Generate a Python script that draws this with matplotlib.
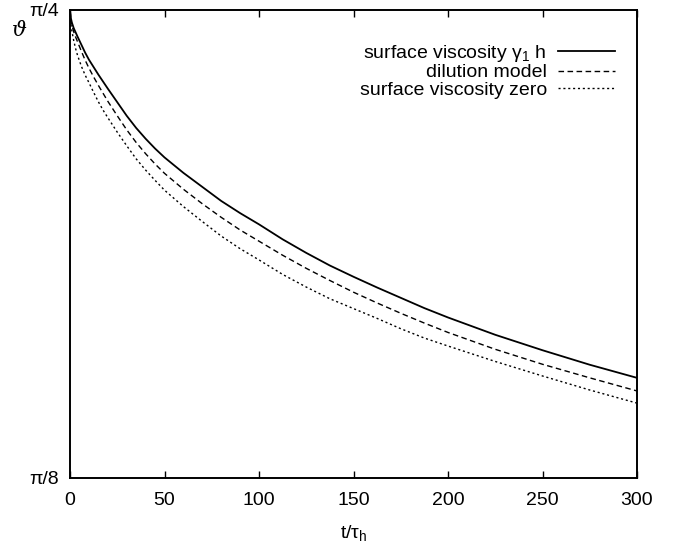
import numpy as np
import matplotlib.pyplot as plt

plt.rcParams['font.family'] = ['Liberation Sans', 'DejaVu Sans']
plt.rcParams['mathtext.fontset'] = 'custom'
plt.rcParams['mathtext.rm'] = 'Liberation Sans'
plt.rcParams['mathtext.it'] = 'Liberation Sans'

# time in units of tau_h
t = [0, 0.5, 1, 2, 3, 4, 6, 8, 10, 12.5, 15, 17.5, 20, 25, 30, 35, 40, 45, 50, 60, 70, 80, 90,
     100, 112.5, 125, 137.5, 150, 162.5, 175, 187.5, 200, 225, 250, 275, 300]

# drop of the angle below pi/4, in units of pi/8
drop_gamma = [0, 0.018, 0.027, 0.039, 0.048, 0.057, 0.074, 0.091, 0.106, 0.122, 0.138, 0.153,
              0.168, 0.197, 0.226, 0.252, 0.275, 0.296, 0.315, 0.348, 0.378, 0.408, 0.434,
              0.458, 0.490, 0.519, 0.546, 0.570, 0.593, 0.615, 0.637, 0.657, 0.694, 0.727,
              0.758, 0.786]
drop_dilution = [0, 0.022, 0.032, 0.047, 0.058, 0.068, 0.088, 0.107, 0.124, 0.143, 0.161, 0.178,
                 0.195, 0.226, 0.256, 0.283, 0.307, 0.329, 0.349, 0.383, 0.414, 0.443, 0.470,
                 0.494, 0.524, 0.552, 0.578, 0.603, 0.626, 0.648, 0.669, 0.689, 0.725, 0.757,
                 0.786, 0.814]
drop_zero = [0, 0.030, 0.045, 0.066, 0.083, 0.097, 0.120, 0.139, 0.155, 0.176, 0.196, 0.214,
             0.230, 0.261, 0.290, 0.318, 0.342, 0.364, 0.385, 0.420, 0.452, 0.483, 0.510,
             0.534, 0.565, 0.592, 0.617, 0.638, 0.659, 0.681, 0.701, 0.718, 0.751, 0.782,
             0.812, 0.840]

labels = [r'surface viscosity $\gamma_1$ h', 'dilution model', 'surface viscosity zero']

t = np.array(t)
step = np.pi / 8
theta_gamma = np.pi/4 - step * np.array(drop_gamma)
theta_dilution = np.pi/4 - step * np.array(drop_dilution)
theta_zero = np.pi/4 - step * np.array(drop_zero)

fig = plt.figure(figsize=(6.8, 5.44), dpi=100)
ax = fig.add_axes([70/680, 1-478/544, 567/680, 468/544])

ax.plot(t, theta_gamma, color='black', lw=1.3, label=labels[0])
ax.plot(t, theta_dilution, color='black', lw=1.0, ls=(0, (4, 2.5)), label=labels[1])
ax.plot(t, theta_zero, color='black', lw=1.0, ls=(0, (1.5, 2)), label=labels[2])

ax.set_xlim(0, 300)
ax.set_ylim(np.pi/8, np.pi/4)
ax.set_xticks([0, 50, 100, 150, 200, 250, 300])
ax.set_yticks([np.pi/8, np.pi/4])
ax.set_yticklabels(['π/8', 'π/4'])
ax.tick_params(direction='in', top=True, right=True, length=5, width=1, labelsize=14)
ax.tick_params(axis='x', pad=10)
ax.tick_params(axis='y', pad=8, length=0)
for s in ax.spines.values():
    s.set_linewidth(1.4)

ax.set_xlabel(r't/$\tau_\mathrm{h}$', fontsize=14, labelpad=10)
ax.set_ylabel('ϑ', fontsize=15, rotation=0, family='DejaVu Serif', style='italic',
              ha='center', va='center')
ax.yaxis.set_label_coords(-0.09, 0.957)

ax.legend(loc='upper right', bbox_to_anchor=(0.961, 0.93), frameon=False,
          markerfirst=False, fontsize=14, handlelength=2.9, handletextpad=0.6,
          labelspacing=0.0, borderpad=0, borderaxespad=0)

fig.savefig('out.png', dpi=100)
